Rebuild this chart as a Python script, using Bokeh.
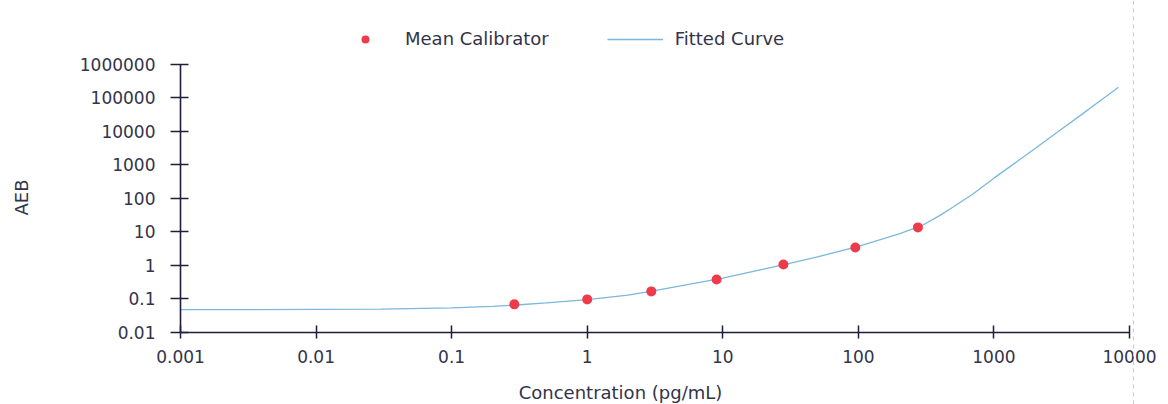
import math
from bokeh.plotting import figure
from bokeh.models import Range1d, Legend, LegendItem, Label, Span, FixedTicker
from bokeh.embed import file_html
from bokeh.resources import INLINE

# ---- data ----
cal_conc = [0.29, 1.0, 2.97, 9.0, 28, 95, 275]
cal_aeb = [0.069, 0.097, 0.168, 0.38, 1.07, 3.44, 13.6]

fit_conc = [0.001, 0.003, 0.01, 0.03, 0.1, 0.2, 0.3, 0.5, 1, 2, 3, 5, 10, 20, 30, 50,
            100, 200, 300, 400, 500, 700, 1000, 2000, 3000, 5000, 8300]
fit_aeb = [0.048, 0.048, 0.049, 0.050, 0.054, 0.060, 0.066, 0.076, 0.095, 0.13, 0.17, 0.25,
           0.42, 0.78, 1.12, 1.8, 3.7, 8.7, 16, 31, 55, 135, 400, 3000, 10000, 45000, 205000]

x_ticks = [0.001, 0.01, 0.1, 1, 10, 100, 1000, 10000]
x_tick_labels = ["0.001", "0.01", "0.1", "1", "10", "100", "1000", "10000"]
y_ticks = [0.01, 0.1, 1, 10, 100, 1000, 10000, 100000, 1000000]
y_tick_labels = ["0.01", "0.1", "1", "10", "100", "1000", "10000", "100000", "1000000"]

FONT = "DejaVu Sans"
TXT = "#33334a"
AX = "#1e1e3c"

W, H = 1168, 404
# pixel layout of the plotting area (axes drawn at fixed locations)
X0_PX, XDEC_PX = 180, 135.57   # x = 0.001 at 180 px, px per decade
Y0_PX, YDEC_PX = 332, 33.54    # y = 0.01 at 332 px, px per decade
x_lo = 10 ** (-3 - X0_PX / XDEC_PX)
x_hi = 10 ** (-3 + (W - X0_PX) / XDEC_PX)
y_lo = 10 ** (-2 - (H - Y0_PX) / YDEC_PX)
y_hi = 10 ** (-2 + Y0_PX / YDEC_PX)

p = figure(width=W, height=H, x_axis_type="log", y_axis_type="log",
           x_range=Range1d(x_lo, x_hi), y_range=Range1d(y_lo, y_hi),
           output_backend="svg", toolbar_location=None, min_border=0)
p.outline_line_color = None
p.grid.visible = False
p.background_fill_color = "white"
p.border_fill_color = "white"

# faint dashed vertical line at the right
p.add_layout(Span(location=10 ** (4 + 4 / XDEC_PX), dimension="height",
                  line_color="#c8c8d8", line_width=1, line_dash="4 4"))

curve = p.line(fit_conc, fit_aeb, line_color="#7ab8dc", line_width=1.3)
dots = p.scatter(cal_conc, cal_aeb, size=10, fill_color="#ee3b4b", line_color=None)

for ax in (p.xaxis[0], p.yaxis[0]):
    ax.axis_line_color = AX
    ax.axis_line_width = 1.6
    ax.major_tick_line_color = AX
    ax.major_tick_line_width = 1.5
    ax.minor_tick_line_color = None
    ax.major_label_text_font = FONT
    ax.major_label_text_font_size = "17px"
    ax.major_label_text_color = TXT

xa = p.xaxis[0]
xa.ticker = FixedTicker(ticks=x_ticks)
xa.major_label_overrides = {t: l for t, l in zip(x_ticks, x_tick_labels)}
xa.major_tick_in = 7
xa.major_tick_out = 6
xa.major_label_standoff = 11
xa.fixed_location = 0.01
xa.bounds = (0.001, 10000)

ya = p.yaxis[0]
ya.ticker = FixedTicker(ticks=y_ticks)
ya.major_label_overrides = {t: l for t, l in zip(y_ticks, y_tick_labels)}
ya.major_tick_in = 8
ya.major_tick_out = 10
ya.major_label_standoff = 15
ya.fixed_location = 0.001
ya.bounds = (0.01, 1000000)

# axis titles
p.add_layout(Label(x=620, y=2, x_units="screen", y_units="screen",
                   text="Concentration (pg/mL)", text_font=FONT, text_font_size="18px",
                   text_color=TXT, text_align="center", text_baseline="bottom"))
p.add_layout(Label(x=21, y=H - 197, x_units="screen", y_units="screen",
                   text="AEB", angle=math.pi / 2, text_font=FONT, text_font_size="18px",
                   text_color=TXT, text_align="center", text_baseline="middle"))

legend = Legend(items=[LegendItem(label="Mean Calibrator", renderers=[dots]),
                       LegendItem(label="Fitted Curve", renderers=[curve])],
                location=(337, H - 49), orientation="horizontal",
                glyph_width=56, glyph_height=20, label_standoff=12, spacing=58,
                padding=0, margin=0, border_line_color=None, background_fill_alpha=0,
                label_text_font=FONT, label_text_font_size="18px", label_text_color=TXT)
p.add_layout(legend)

open("out.html", "w").write(file_html(p, INLINE))
